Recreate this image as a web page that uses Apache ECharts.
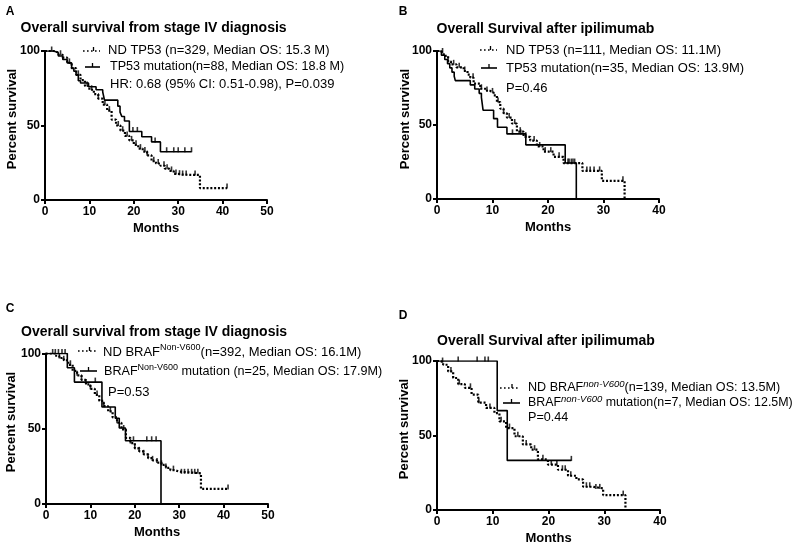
<!DOCTYPE html>
<html><head><meta charset="utf-8">
<script src="https://cdn.jsdelivr.net/npm/echarts@6/dist/echarts.min.js"></script>
<style>html,body{margin:0;padding:0;background:#fff}#c{width:800px;height:550px}</style>
</head><body><div id="c"></div>
<script>
// ---- Panel A: TP53, from stage IV diagnosis ----
const aNdT  = [0,1,2,3,4,5,6,7,8,9,10,11,12,13,14,15,16,17,18,19,20,21,22,23,24,25,26,27,28,29,30,31,34.9,41];
const aNdS  = [100,100,99,97.5,95.5,92,88.5,84,80.5,76.5,74,71,68,64,60,54,50,46.5,43,40,37,34.5,32.5,30,26,24.5,23,21,19.5,17.5,17,16.8,8,8];
const aNdC  = [1.5,3.5,5.5,7.5,9.5,10.5,12,13.5,14.5,16.5,17.5,18.5,19.5,20.5,21.5,22.5,23,24.5,25.5,26.8,27.5,28.5,29.5,30.3,31,31.8,33.8,41];
const aMutT = [0,2,3,4,5,6,6.5,7,7.5,8,9.8,11.5,13,13.4,16.4,16.9,17.3,17.9,19,21.8,24,26,33];
const aMutS = [100,98.9,96.6,94.3,92,88.6,86.4,84,80,78.5,76,74,72.5,67,63,59,56,53,46,42.5,39,32.4,32.4];
const aMutC = [19.8,20.8,24.8,27.4,29,30,31.5,33];

// ---- Panel B: TP53, after ipilimumab ----
const bNdT  = [0,0.5,1.2,2,2.5,3.5,4.8,5.5,6,6.6,7.8,9,9.6,10.2,10.8,11.4,12,12.6,13.5,14.4,15.6,16.8,18,19.2,21,22.8,26.2,29.7,33.8];
const bNdS  = [100,99,96.7,93,91,89,86.5,84,82,78,74.5,73,72,70,65.5,61,58,55,51,45.5,42,39.5,35.5,32,28.5,24.3,19,12.3,0];
const bNdC  = [1,2,3,4,5,6.5,8,9,10,11,12,13,14,15,16,17.5,18.5,19.5,20.5,22,23.6,24.2,24.8,27,27.6,28.3,29.3,33.5];
const bMutT = [0,0.8,1.4,1.9,2.3,2.7,3.1,3.3,6,6.8,7.6,8,8.3,10.2,10.9,12.6,16,23.1,25.1];
const bMutS = [100,97.1,94.3,91.4,88.6,85.7,82.9,80,77.1,74.3,71.4,68.6,60,54.3,48.5,44,36.6,24.3,0];
const bMutC = [13.6,15.1,23.8,24.5];

// ---- Panel C: BRAF non-V600, from stage IV diagnosis ----
const cNdT  = [0,1,2,3,4,5,6,7,8,9,10,11,12,13,14,15,16,17,18,19,20,21,22,23,24,25,26,27,28,29,30,34.9,41];
const cNdS  = [100,100,98.5,97,95.5,92.5,88.5,85.5,82.5,79.5,76.5,72.5,68.5,65,61.5,57.5,54,49.5,44,40.5,37,35,33,30.5,29,27.5,26,24,22.5,21.5,20.4,10,10];
const cNdC  = [1.5,3,4,5.5,7,8,9,10,11.5,13,14.5,16,17.5,19,20,21,22,23,24,25,26,27,28.7,30.5,31.2,32,32.8,33.5,34.2,41];
const cMutT = [0,4.8,6.4,12.6,15.6,16.5,17.9,25.9];
const cMutS = [100,90.5,81,64.5,57,50.5,42,0];
const cMutC = [2.1,2.8,3.6,4.3,11.1,19.7,22.7,23.8,24.8];

// ---- Panel D: BRAF non-V600, after ipilimumab ----
const dNdT  = [0,0.5,1.1,2,2.9,3.8,5,6.2,7.4,8.8,10.3,11.2,12.4,13.9,15.4,16.9,18.1,19.9,21.7,23.5,25,26.2,28,29.8,33.8];
const dNdS  = [100,99.3,97.5,93,88.6,84.5,82,77.5,72,68.5,65,59.5,55,49.5,44,40.5,34,30.5,27,23,20.5,15.6,14.5,10,0];
const dNdC  = [1,2.5,4,6,7.5,9.5,11.5,13,14.5,16,17.5,19,20.5,21.5,22.5,23,24,26.8,27.4,28.5,29.2,33.4];
const dMutT = [0,10.8,12.6,24.1];
const dMutS = [100,66.7,33.3,33.3];
const dMutC = [3.8,7.2,8.6,9.2,24.1];

const xTicksAC = [0,10,20,30,40,50];
const xTicksBD = [0,10,20,30,40];
const yTicks = [0,50,100];

const FONT = 'Liberation Sans, Arial, sans-serif';

function pairs(T,S){return T.map((t,i)=>[t,S[i]]);}
function surv(T,S,t){let v=S[0];for(let i=0;i<T.length;i++){if(T[i]<=t)v=S[i];else break;}return v;}
function cens(T,S,C){return C.map(t=>[t,surv(T,S,t)]);}

const grids = [
  {left:45, top:51, width:222, height:149},
  {left:437, top:51, width:222, height:148},
  {left:46, top:353.5, width:222, height:150.5},
  {left:437, top:361, width:223, height:149}
];
const xMax = [50,40,50,40];
const xTicksAll = [xTicksAC,xTicksBD,xTicksAC,xTicksBD];

const xAxes = grids.map((g,i)=>({
  type:'value', gridIndex:i, min:0, max:xMax[i], interval:10,
  name:'Months', nameLocation:'middle', nameGap:22,
  nameTextStyle:{fontFamily:FONT,fontWeight:'bold',fontSize:13,color:'#000'},
  axisLine:{show:true,onZero:false,lineStyle:{color:'#000',width:2}},
  axisTick:{show:true,inside:false,length:4,lineStyle:{color:'#000',width:2}},
  axisLabel:{fontFamily:FONT,fontWeight:'bold',fontSize:12,color:'#000',margin:6,
    formatter:v=>xTicksAll[i].includes(v)?String(v):''},
  splitLine:{show:false}
}));
const yAxes = grids.map((g,i)=>({
  type:'value', gridIndex:i, min:0, max:100, interval:50,
  axisLine:{show:true,onZero:false,lineStyle:{color:'#000',width:2}},
  axisTick:{show:true,inside:false,length:4,lineStyle:{color:'#000',width:2}},
  axisLabel:{fontFamily:FONT,fontWeight:'bold',fontSize:12,color:'#000',margin:5,
    formatter:v=>yTicks.includes(v)?String(v):''},
  splitLine:{show:false}
}));

const sets = [
  [aNdT,aNdS,aNdC,aMutT,aMutS,aMutC],
  [bNdT,bNdS,bNdC,bMutT,bMutS,bMutC],
  [cNdT,cNdS,cNdC,cMutT,cMutS,cMutC],
  [dNdT,dNdS,dNdC,dMutT,dMutS,dMutC]
];
const series = [];
sets.forEach((s,i)=>{
  series.push({type:'line',xAxisIndex:i,yAxisIndex:i,step:'end',showSymbol:false,silent:true,
    data:pairs(s[0],s[1]),lineStyle:{color:'#000',width:2.2,type:[2,1.8]},z:3});
  series.push({type:'line',xAxisIndex:i,yAxisIndex:i,step:'end',showSymbol:false,silent:true,
    data:pairs(s[3],s[4]),lineStyle:{color:'#000',width:1.6,type:'solid'},z:4});
  series.push({type:'scatter',xAxisIndex:i,yAxisIndex:i,symbol:'rect',symbolSize:[1.6,5],symbolOffset:[0,-2],
    data:cens(s[0],s[1],s[2]).concat(cens(s[3],s[4],s[5])),itemStyle:{color:'#000'},silent:true,z:5});
});

function txt(x,y,text,opts){
  return {type:'text',x:x,y:y,silent:true,style:Object.assign({text:text,fill:'#000',
    font:'13px '+FONT,align:'left',verticalAlign:'middle'},opts||{})};
}
function richSup(fs){
  return {
    t:{fontSize:fs,fontFamily:FONT,lineHeight:18,fill:'#000'},
    s:{fontSize:9,fontFamily:FONT,verticalAlign:'top',fill:'#000'},
    si:{fontSize:9.5,fontFamily:FONT,fontStyle:'italic',verticalAlign:'top',fill:'#000'}
  };
}
function symNd(x1,x2,y){
  return [
    {type:'line',silent:true,shape:{x1:x1,y1:y,x2:x2,y2:y},style:{stroke:'#000',lineWidth:1.6,lineDash:[1.6,2.4]}},
    {type:'line',silent:true,shape:{x1:(x1+x2)/2+2,y1:y-4,x2:(x1+x2)/2+2,y2:y},style:{stroke:'#000',lineWidth:1.3}}
  ];
}
function symMut(x1,x2,y){
  return [
    {type:'line',silent:true,shape:{x1:x1,y1:y,x2:x2,y2:y},style:{stroke:'#000',lineWidth:1.6}},
    {type:'line',silent:true,shape:{x1:(x1+x2)/2,y1:y-4,x2:(x1+x2)/2,y2:y},style:{stroke:'#000',lineWidth:1.3}}
  ];
}
function ylab(x,y){
  return {type:'text',x:x,y:y,rotation:Math.PI/2,silent:true,
    style:{text:'Percent survival',fill:'#000',font:'bold 13px '+FONT,align:'center',verticalAlign:'middle'}};
}

const graphics = [
  txt(10,12,'A',{font:'bold 12px '+FONT,align:'center'}),
  txt(403,12,'B',{font:'bold 12px '+FONT,align:'center'}),
  txt(10,309,'C',{font:'bold 12px '+FONT,align:'center'}),
  txt(403,316,'D',{font:'bold 12px '+FONT,align:'center'}),
  txt(20.5,28,'Overall survival from stage IV diagnosis',{font:'bold 14px '+FONT}),
  txt(436.5,29,'Overall Survival after ipilimumab',{font:'bold 14px '+FONT}),
  txt(21,332,'Overall survival from stage IV diagnosis',{font:'bold 14px '+FONT}),
  txt(437,341,'Overall Survival after ipilimumab',{font:'bold 14px '+FONT}),
  ylab(12,119), ylab(405,119), ylab(11,422), ylab(404,429),
  // legends A
  txt(108,50.5,'ND TP53 (n=329, Median OS: 15.3 M)'),
  txt(110,67,'TP53 mutation(n=88, Median OS: 18.8 M)',{font:'12.6px '+FONT}),
  txt(110,84,'HR: 0.68 (95% CI: 0.51-0.98), P=0.039'),
  ...symNd(83,100,51), ...symMut(85,100,67),
  // legends B
  txt(506,50,'ND TP53 (n=111, Median OS: 11.1M)'),
  txt(506,68,'TP53 mutation(n=35, Median OS: 13.9M)'),
  txt(506,88,'P=0.46'),
  ...symNd(480,497,50), ...symMut(481,497,68),
  // legends C
  {type:'text',x:103,y:352,silent:true,style:{text:'{t|ND BRAF}{s|Non-V600}{t|(n=392, Median OS: 16.1M)}',rich:richSup(13),align:'left',verticalAlign:'middle'}},
  {type:'text',x:104,y:372,silent:true,style:{text:'{t|BRAF}{s|Non-V600}{t| mutation (n=25, Median OS: 17.9M)}',rich:richSup(12.6),align:'left',verticalAlign:'middle'}},
  txt(108,392,'P=0.53'),
  ...symNd(78,97,351), ...symMut(80,97,371),
  // legends D
  {type:'text',x:528,y:388,silent:true,style:{text:'{t|ND BRAF}{si|non-V600}{t|(n=139, Median OS: 13.5M)}',rich:richSup(12.6),align:'left',verticalAlign:'middle'}},
  {type:'text',x:528,y:403,silent:true,style:{text:'{t|BRAF}{si|non-V600}{t| mutation(n=7, Median OS: 12.5M)}',rich:richSup(12.4),align:'left',verticalAlign:'middle'}},
  txt(528,418,'P=0.44',{font:'12.6px '+FONT}),
  ...symNd(500,520,388), ...symMut(503,520,403)
];

const chart = echarts.init(document.getElementById('c'),null,{renderer:'canvas'});
chart.setOption({
  animation:false,
  backgroundColor:'#fff',
  grid:grids,
  xAxis:xAxes,
  yAxis:yAxes,
  series:series,
  graphic:graphics
});
</script>
</body></html>
